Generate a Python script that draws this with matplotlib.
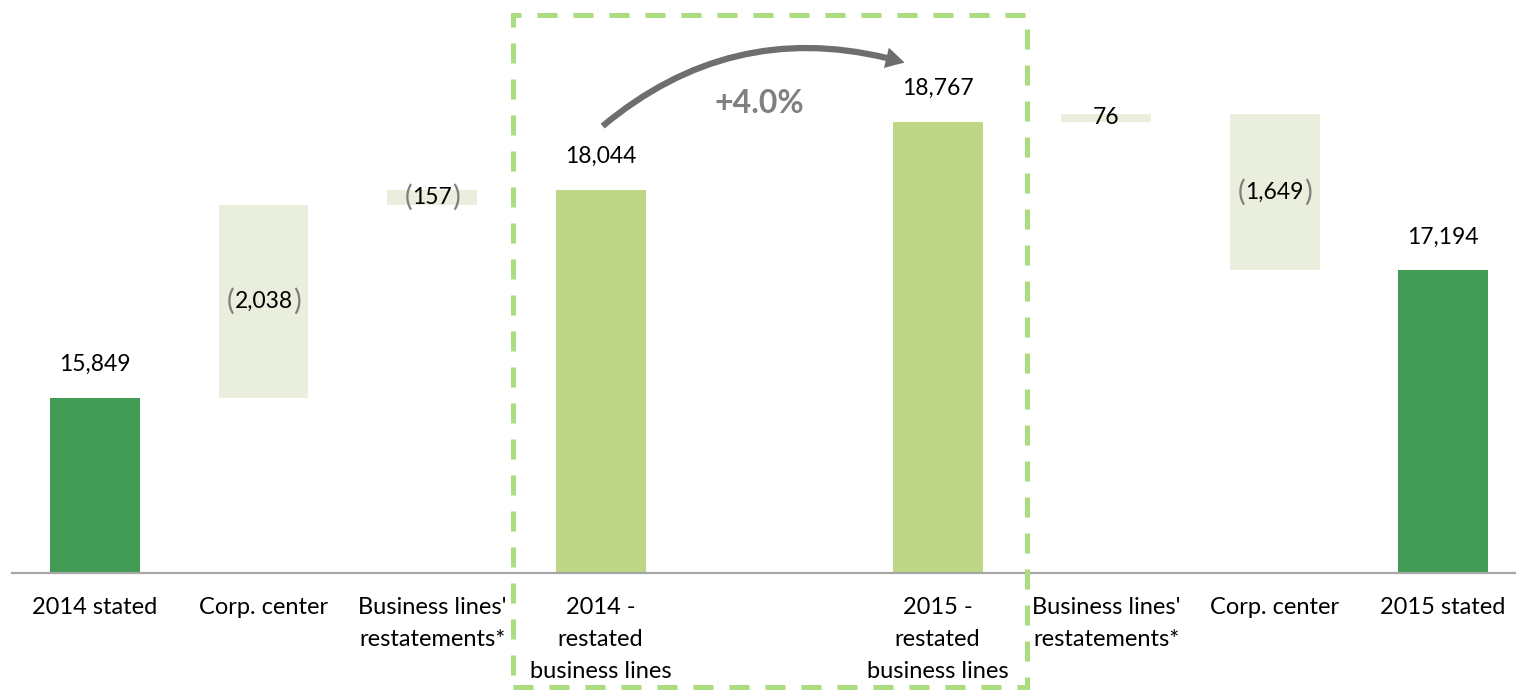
import matplotlib
matplotlib.use("Agg")
import matplotlib.pyplot as plt
from matplotlib.patches import Rectangle, FancyArrowPatch

plt.rcParams['font.family'] = ['Lato', 'DejaVu Sans']

# data
categories = ["2014 stated", "Corp. center", "Business lines'\nrestatements*",
              "2014 -\nrestated\nbusiness lines", "",
              "2015 -\nrestated\nbusiness lines", "Business lines'\nrestatements*",
              "Corp. center", "2015 stated"]
start_2014 = 15849
left_deltas = [-2038, -157]      # removed going from stated to restated
restated_2014 = 18044
restated_2015 = 18767
right_deltas = [76, -1649]       # added going from restated to stated
stated_2015 = 17194
growth_label = "+4.0%"

dark_green = "#419B55"
light_green = "#BDD786"
pale_green = "#EAEFDD"
dash_green = "#AADC80"

fig = plt.figure(figsize=(15.16, 6.90), dpi=100)
ax = fig.add_axes([12/1516, 117/690, 1504/1516, 573/690])

w = 0.534
xs = list(range(len(categories)))

def total_bar(x, v, color):
    ax.bar(x, v - 14000, bottom=14000, width=w, color=color, zorder=2)
    ax.annotate(f"{v:,}", xy=(x, v), xytext=(0, 24), textcoords="offset points",
                ha="center", va="center", fontsize=16.5)

def delta_bar(x, lo, hi, v):
    ax.bar(x, hi - lo, bottom=lo, width=w, color=pale_green, zorder=2)
    mid = (lo + hi) / 2
    if v < 0:
        t = ax.text(x, mid, f"{-v:,}", ha="center", va="center", fontsize=16.5, zorder=3)
        ax.annotate("(", xy=(0, 0.5), xycoords=t, ha="right", va="center",
                    fontsize=21, color="#7F7F7F")
        ax.annotate(")", xy=(1, 0.5), xycoords=t, ha="left", va="center",
                    fontsize=21, color="#7F7F7F")
    else:
        ax.text(x, mid, f"{v:,}", ha="center", va="center", fontsize=16.5, zorder=3)

# left side
total_bar(0, start_2014, dark_green)
run = start_2014
for i, d in enumerate(left_deltas):
    new = run - d
    delta_bar(1 + i, min(run, new), max(run, new), d)
    run = new
total_bar(3, restated_2014, light_green)

# right side
total_bar(5, restated_2015, light_green)
run = restated_2015
for i, d in enumerate(right_deltas):
    new = run + d
    delta_bar(6 + i, min(run, new), max(run, new), d)
    run = new
total_bar(8, stated_2015, dark_green)

ax.set_xlim(-0.4926, 8.433)
ax.set_ylim(14000, 20050)
ax.set_yticks([])
ax.set_xticks(xs)
ax.set_xticklabels(categories, fontsize=17, linespacing=1.65)
ax.tick_params(axis="x", length=0, pad=17)
for s in ["top", "right", "left"]:
    ax.spines[s].set_visible(False)
ax.spines["bottom"].set_color("#A6A6A6")
ax.spines["bottom"].set_linewidth(1.6)

# growth arrow
arr = FancyArrowPatch((3.0, 18700), (4.82, 19380),
                      connectionstyle="arc3,rad=-0.27",
                      arrowstyle="simple,head_width=1.0,head_length=0.9,tail_width=0.3",
                      mutation_scale=15, color="#6E6E6E", lw=0, zorder=4)
ax.add_patch(arr)
ax.text(3.94, 18962, growth_label, ha="center", va="center", fontsize=23,
        fontweight="bold", color="#808080")

# dashed highlight box
box = Rectangle((513/1516, 3/690), 514/1516, 672/690, transform=fig.transFigure,
                fill=False, edgecolor=dash_green, lw=3.6, zorder=5, clip_on=False)
box.set_linestyle((0, (4, 3.2)))
box.set_capstyle("butt")
fig.patches.append(box)

fig.savefig("out.png", dpi=100)
